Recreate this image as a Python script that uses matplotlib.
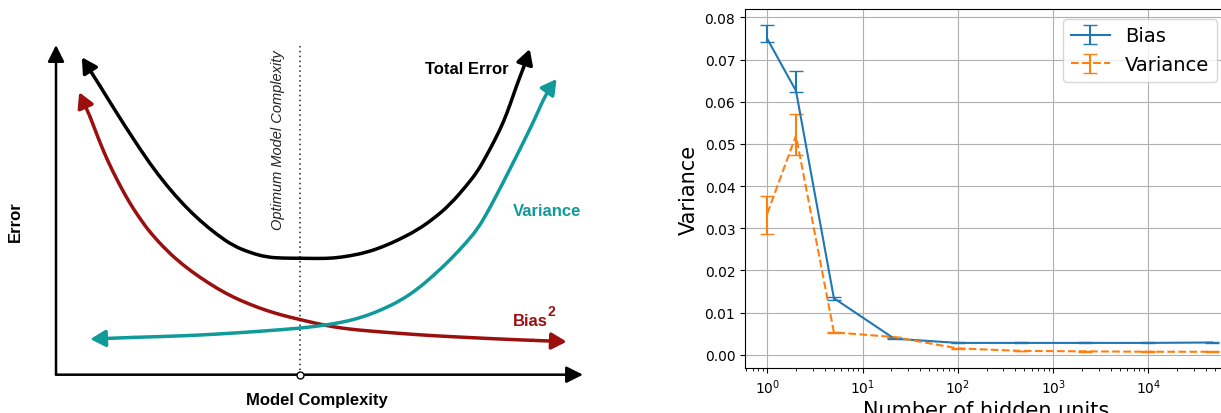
import numpy as np
import matplotlib.pyplot as plt
from matplotlib.path import Path
from matplotlib.patches import PathPatch

# --- левая панель: схема bias/variance (условные единицы, 0..10) ---
total_x = [0.49, 0.83, 1.15, 1.47, 1.78, 2.10, 2.42, 2.73, 3.05, 3.36, 3.68, 4.00, 4.32, 4.63,
           4.95, 5.26, 5.58, 5.90, 6.21, 6.53, 6.85, 7.16, 7.48, 7.79, 8.00, 8.17, 8.33, 8.49, 8.62, 8.74, 8.87, 8.99]
total_y = [9.62, 8.76, 7.93, 7.14, 6.40, 5.73, 5.15, 4.67, 4.25, 3.91, 3.70, 3.56, 3.53, 3.53,
           3.52, 3.53, 3.60, 3.71, 3.88, 4.11, 4.38, 4.72, 5.16, 5.73, 6.16, 6.64, 7.12, 7.65, 8.20, 8.76, 9.30, 9.87]

bias_x = [0.44, 0.65, 0.83, 0.99, 1.15, 1.31, 1.47, 1.63, 1.78, 2.10, 2.42, 2.73, 3.05, 3.36, 3.68,
          4.00, 4.32, 4.63, 4.95, 5.26, 5.58, 5.90, 6.53, 7.16, 7.79, 8.42, 9.05, 9.69]
bias_y = [8.56, 7.80, 7.04, 6.45, 5.93, 5.45, 5.02, 4.65, 4.32, 3.76, 3.31, 2.95, 2.62, 2.35, 2.13,
          1.94, 1.79, 1.67, 1.55, 1.45, 1.38, 1.33, 1.25, 1.18, 1.13, 1.08, 1.04, 1.00]

var_x = [0.65, 1.47, 2.10, 2.73, 3.36, 4.00, 4.63, 4.95, 5.26, 5.58, 5.90, 6.21, 6.53, 6.85, 7.16,
         7.48, 7.79, 8.00, 8.17, 8.36, 8.55, 8.74, 8.93, 9.10, 9.25, 9.38, 9.50]
var_y = [1.08, 1.13, 1.16, 1.20, 1.26, 1.33, 1.41, 1.47, 1.54, 1.64, 1.79, 1.99, 2.24, 2.58, 3.00,
         3.48, 4.01, 4.42, 4.87, 5.44, 6.03, 6.63, 7.24, 7.80, 8.35, 8.70, 8.96]

optimum_x = 4.63

# --- правая панель: данные эксперимента ---
hidden_units = [1, 2, 5, 21.5, 100, 464, 2154, 10000, 46416]
bias_vals = [0.0749, 0.0626, 0.0134, 0.0038, 0.0028, 0.0028, 0.0028, 0.0028, 0.0029]
bias_err_lo = [0.0008, 0.0004, 0.0004, 0.0001, 0.0001, 0.0001, 0.0001, 0.0001, 0.0001]
bias_err_hi = [0.0033, 0.0047, 0.0004, 0.0001, 0.0001, 0.0001, 0.0001, 0.0001, 0.0001]
var_vals = [0.0335, 0.0520, 0.0053, 0.0042, 0.0015, 0.0009, 0.0008, 0.0007, 0.0007]
var_err_lo = [0.0049, 0.0046, 0.0002, 0.0001, 0.0001, 0.0001, 0.0001, 0.0001, 0.0001]
var_err_hi = [0.0042, 0.0051, 0.0002, 0.0001, 0.0001, 0.0001, 0.0001, 0.0001, 0.0001]

RED = '#9b0f0f'
TEAL = '#109a9a'
SANS = ['Liberation Sans', 'DejaVu Sans']

fig = plt.figure(figsize=(12.21, 4.14), dpi=100)

# Левая панель
ax1 = fig.add_axes([0, 0, 600 / 1221, 1])
ax1.set_xlim(-1.063, 10.323)
ax1.set_ylim(-1.161, 11.385)
ax1.axis('off')

axis_arrow = dict(arrowstyle='-|>,head_length=0.5,head_width=0.25', color='black',
                  lw=1.8, shrinkA=0, shrinkB=0, mutation_scale=20)
ax1.annotate('', xy=(0, 9.99), xytext=(0, 0), arrowprops=axis_arrow)
ax1.annotate('', xy=(10.0, 0), xytext=(0, 0), arrowprops=axis_arrow)


def curve_with_arrows(xs, ys, color):
    # сглаженная кривая (квадратичные Безье через середины отрезков)
    pts = np.column_stack([xs[1:-1], ys[1:-1]])
    verts = [pts[0]]
    codes = [Path.MOVETO]
    for i in range(1, len(pts) - 1):
        verts += [pts[i], (pts[i] + pts[i + 1]) / 2]
        codes += [Path.CURVE3, Path.CURVE3]
    verts.append(pts[-1])
    codes.append(Path.LINETO)
    ax1.add_patch(PathPatch(Path(verts, codes), fill=False, edgecolor=color, lw=2.5,
                            capstyle='round', joinstyle='round', zorder=3))
    props = dict(arrowstyle='-|>,head_length=0.45,head_width=0.25', color=color, lw=2.5,
                 shrinkA=0, shrinkB=0, mutation_scale=20)
    ax1.annotate('', xy=(xs[0], ys[0]), xytext=(xs[1], ys[1]), arrowprops=props, zorder=3)
    ax1.annotate('', xy=(xs[-1], ys[-1]), xytext=(xs[-2], ys[-2]), arrowprops=props, zorder=3)


curve_with_arrows(total_x, total_y, 'black')
curve_with_arrows(bias_x, bias_y, RED)
curve_with_arrows(var_x, var_y, TEAL)

ax1.plot([optimum_x, optimum_x], [0, 9.97], color='#222222', lw=1.1, ls=(0, (1, 2.2)), zorder=2)
ax1.plot([optimum_x], [0], marker='o', ms=5, mfc='white', mec='black', mew=1.0, zorder=5)

ax1.text(optimum_x - 0.42, 7.14, 'Optimum Model Complexity', rotation=90, ha='center',
         va='center', fontsize=10.5, style='italic', family=SANS, color='#222222')
ax1.text(7.0, 9.29, 'Total Error', ha='left', va='center', fontsize=12,
         fontweight='bold', family=SANS)
ax1.text(8.67, 4.97, 'Variance', ha='left', va='center', fontsize=12,
         fontweight='bold', family=SANS, color=TEAL)
ax1.text(8.67, 1.64, 'Bias', ha='left', va='center', fontsize=12,
         fontweight='bold', family=SANS, color=RED)
ax1.text(9.33, 1.92, '2', ha='left', va='center', fontsize=10,
         fontweight='bold', family=SANS, color=RED)
ax1.text(-0.78, 4.67, 'Error', rotation=90, ha='center', va='center', fontsize=12,
         fontweight='bold', family=SANS)
ax1.text(4.95, -0.74, 'Model Complexity', ha='center', va='center', fontsize=12,
         fontweight='bold', family=SANS)

# Правая панель
ax2 = fig.add_axes([745 / 1221, 45 / 414, 482 / 1221, 359 / 414])
ax2.errorbar(hidden_units, bias_vals, yerr=[bias_err_lo, bias_err_hi], capsize=5,
             color='C0', label='Bias')
ax2.errorbar(hidden_units, var_vals, yerr=[var_err_lo, var_err_hi], capsize=5,
             color='C1', ls='--', label='Variance')
ax2.set_xscale('log')
ax2.set_xlim(10 ** -0.234, 10 ** 4.824)
ax2.set_ylim(-0.00315, 0.0820)
ax2.set_yticks(np.arange(0, 0.081, 0.01))
ax2.grid(True)
ax2.tick_params(labelsize=10)
ax2.set_xlabel('Number of hidden units', fontsize=15, labelpad=3)
ax2.set_ylabel('Variance', fontsize=15)
ax2.legend(loc='upper right', fontsize=14)

fig.savefig('out.png', dpi=100)
